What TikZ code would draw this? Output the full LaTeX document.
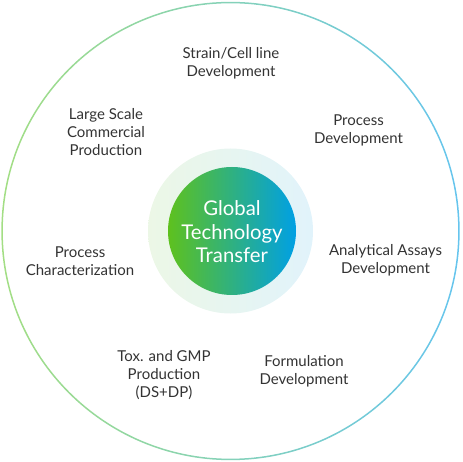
\documentclass[tikz,border=0pt]{standalone}
\usepackage{fontspec}
\setmainfont{Lato}
\definecolor{txt}{HTML}{333333}
\definecolor{ringL}{HTML}{A3DE84}
\definecolor{ringR}{HTML}{66C5EE}
\definecolor{haloL}{HTML}{ECF7E6}
\definecolor{haloR}{HTML}{E1F3FB}
\definecolor{coreL}{HTML}{5EC11E}
\definecolor{coreR}{HTML}{00A0E4}
\tikzset{
  stage/.style={align=center, text=txt, font=\fontsize{15}{18}\selectfont, inner sep=0pt},
  core/.style={align=center, text=white, font=\fontsize{20.3}{23.5}\selectfont, inner sep=0pt}
}
\begin{document}
\begin{tikzpicture}[x=1pt,y=-1pt]
\useasboundingbox (0,0) rectangle (463,462);
\coordinate (c) at (230.5,231);
\shade[even odd rule, left color=ringL, right color=ringR] (c) circle (229.2) circle (227.7);
\shade[left color=haloL, right color=haloR] (c) circle (82.5);
\shade[left color=coreL, right color=coreR] (232,231) circle (64);
\node[core] (g) at (232,232) {Global\\Technology\\Transfer};
\node[stage] (s1) at (231,63) {Strain/Cell line\\Development};
\node[stage] (s2) at (358.5,130.5) {Process\\Development};
\node[stage] (s3) at (385.5,260) {Analytical Assays\\Development};
\node[stage] (s4) at (304,371) {Formulation\\Development};
\node[stage] (s5) at (164,375.5) {Tox. and GMP\\Production\\(DS+DP)};
\node[stage] (s6) at (80,261) {Process\\Characterization};
\node[stage] (s7) at (106,132.5) {Large Scale\\Commercial\\Production};
\end{tikzpicture}
\end{document}
